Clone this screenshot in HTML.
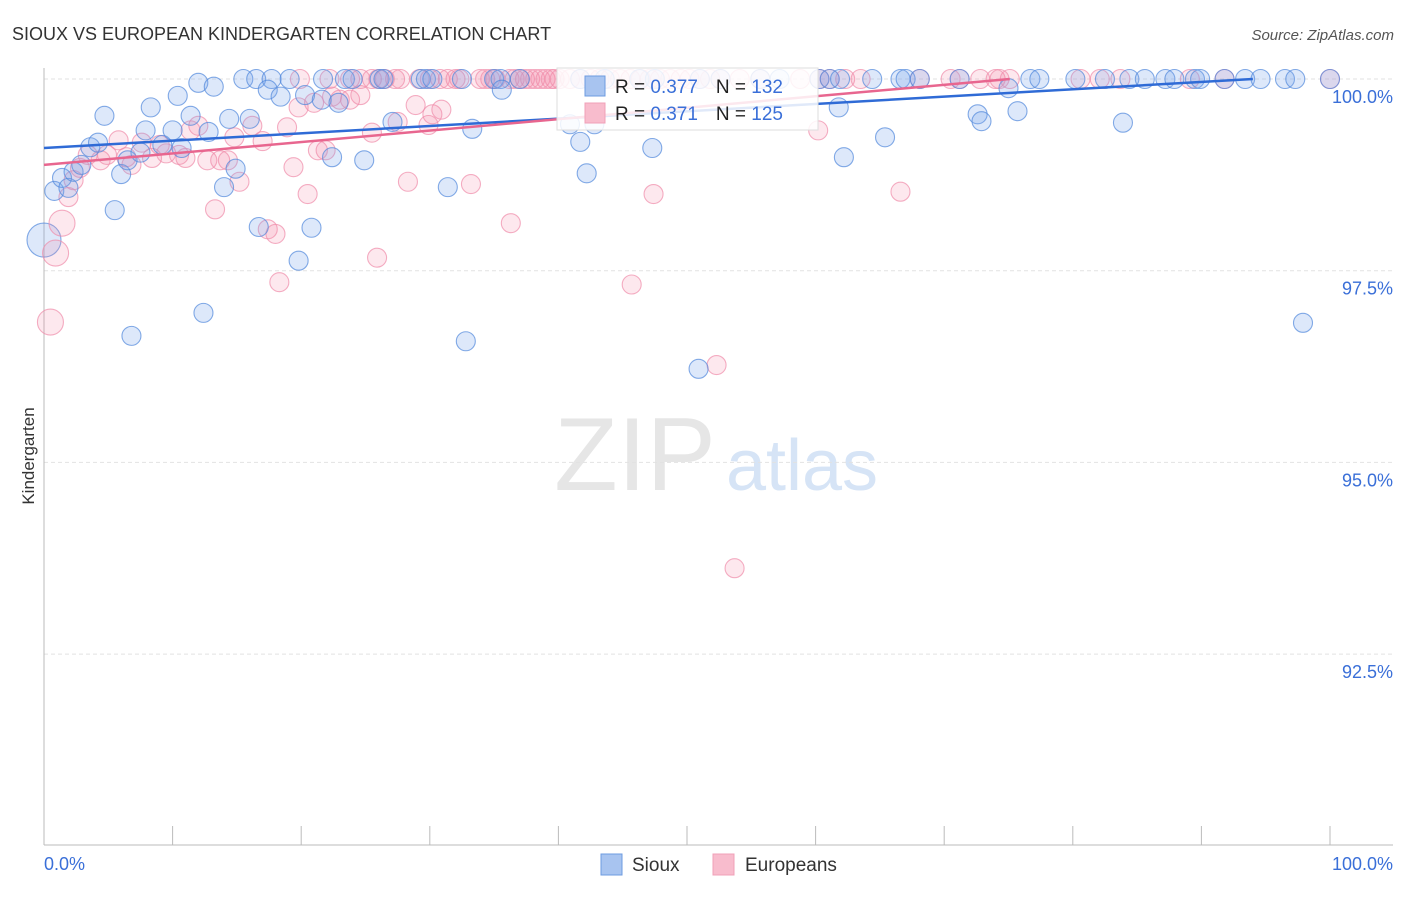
<!DOCTYPE html>
<html><head><meta charset="utf-8"><style>
body{margin:0;background:#fff;font-family:"Liberation Sans",sans-serif}
svg text{font-family:"Liberation Sans",sans-serif}
</style></head><body>
<svg id="c" width="1406" height="892">
<text x="12" y="40" font-size="18" fill="#333">SIOUX VS EUROPEAN KINDERGARTEN CORRELATION CHART</text>
<text x="1394" y="40" font-size="15" fill="#555" font-style="italic" text-anchor="end">Source: ZipAtlas.com</text>
<text x="34" y="456" font-size="17" fill="#333" transform="rotate(-90 34 456)" text-anchor="middle">Kindergarten</text>
<g><text x="635" y="490" font-size="104" fill="#e6e6e6" font-family="Liberation Serif" text-anchor="middle">ZIP</text><text x="802" y="490" font-size="72" fill="#d6e4f6" text-anchor="middle">atlas</text></g>
<g id="grid"></g><g id="pts"></g><g id="lines"></g>
<g>
<rect x="557" y="68" width="261" height="62" fill="#fff" fill-opacity="0.85" stroke="#ddd"/>
<rect x="585" y="76" width="20" height="20" fill="#a8c4f0" stroke="#6d9be0"/>
<rect x="585" y="103" width="20" height="20" fill="#f8bccd" stroke="#f0a0b8"/>
<text x="615" y="93" font-size="19" fill="#222">R = <tspan fill="#3a6fd8">0.377</tspan><tspan dx="18">N = </tspan><tspan fill="#3a6fd8">132</tspan></text>
<text x="615" y="120" font-size="19" fill="#222">R = <tspan fill="#3a6fd8"> 0.371</tspan><tspan dx="18">N = </tspan><tspan fill="#3a6fd8">125</tspan></text>
</g>
<g>
<rect x="601" y="854" width="21" height="21" fill="#a8c4f0" stroke="#6d9be0"/>
<text x="632" y="871" font-size="19" fill="#333">Sioux</text>
<rect x="713" y="854" width="21" height="21" fill="#f8bccd" stroke="#f0a0b8"/>
<text x="745" y="871" font-size="19" fill="#333">Europeans</text>
</g>
</svg>
<script>
const yTicks=[100,97.5,95,92.5];
const yTickLabels=["100.0%","97.5%","95.0%","92.5%"];
const xTicks=[0,10,20,30,40,50,60,70,80,90,100];
const siouxTopX=[15.5,16.5,17.7,19.1,21.7,23.4,24.0,26.1,26.4,29.3,29.7,30.2,32.5,35.0,35.5,37.0,41.7,43.6,46.3,47.5,51.0,52.6,55.7,57.2,60.3,61.1,61.9,64.4,66.6,67.0,68.1,71.2,76.7,77.4,80.2,82.5,84.4,85.6,87.2,87.9,89.5,89.9,91.8,93.4,94.6,96.5,97.3,100];
const siouxX=[0.8,1.4,1.9,2.3,2.9,3.6,4.2,4.7,5.5,6.0,6.5,6.8,7.5,7.9,8.3,9.2,10.0,10.4,10.7,11.4,12.0,12.4,12.8,13.2,14.0,14.4,14.9,16.0,16.7,17.4,18.4,19.8,20.3,20.8,21.6,22.4,22.9,24.9,27.1,31.4,32.8,33.3,35.6,40.9,41.7,42.2,42.8,47.3,50.9,61.8,62.2,65.4,72.6,72.9,75.0,75.7,83.9,97.9];
const siouxY=[98.54,98.71,98.58,98.79,98.88,99.11,99.17,99.52,98.29,98.76,98.94,96.65,99.04,99.33,99.63,99.14,99.33,99.78,99.10,99.52,99.95,96.95,99.31,99.9,98.59,99.48,98.83,99.48,98.07,99.86,99.77,97.63,99.79,98.06,99.73,98.98,99.69,98.94,99.44,98.59,96.58,99.35,99.86,99.41,99.18,98.77,99.41,99.10,96.22,99.63,98.98,99.24,99.54,99.45,99.88,99.58,99.43,96.82];
const eurTopX=[19.9,22.2,23.8,24.6,25.5,26.0,26.5,27.3,27.7,29.2,30.0,30.8,31.4,32.0,32.3,33.9,34.3,34.7,35.1,36.2,36.6,37.0,37.4,37.8,38.2,38.6,39.0,39.4,39.7,40.1,40.9,41.7,42.5,43.2,44.0,44.8,45.6,46.4,47.1,47.9,48.7,49.5,50.2,51.0,51.8,52.6,54.1,55.7,58.8,60.3,61.1,62.3,63.5,68.1,70.5,71.2,72.8,74.0,74.3,75.1,80.6,82.1,83.7,89.1,91.8,100];
const eurX=[1.9,2.3,2.8,3.4,4.4,4.9,5.8,6.4,6.8,7.6,8.4,9.0,9.5,10.5,11.0,11.4,12.0,12.7,13.3,13.7,14.3,14.8,15.2,16.2,17.0,17.4,18.0,18.3,18.9,19.4,19.8,20.5,21.0,21.3,21.9,22.4,23.0,23.8,24.6,25.5,25.9,27.5,28.3,28.9,29.9,30.2,30.9,33.2,36.3,45.7,47.4,52.3,53.7,60.2,66.6];
const eurY=[98.46,98.68,98.84,99.01,98.94,99.01,99.2,98.98,98.88,99.17,98.97,99.14,99.03,99.01,98.97,99.33,99.39,98.94,98.30,98.94,98.94,99.24,98.66,99.39,99.19,98.04,97.98,97.35,99.37,98.85,99.63,98.50,99.69,99.07,99.07,99.77,99.73,99.73,99.79,99.30,97.67,99.44,98.66,99.66,99.40,99.54,99.60,98.63,98.12,97.32,98.50,96.27,93.62,99.33,98.53];
const bigX=[0,0.5,0.9,1.4], bigY=[97.9,96.83,97.73,98.12], bigS=[0,1,1,1];
const trendSioux=[0,99.10,94,100.0];
const trendEur=[0,98.88,75.1,100.0];
const X=v=>44+v*12.86, Y=v=>79+(100-v)*76.68;
const NS="http://www.w3.org/2000/svg";
function mk(t,a,p){const e=document.createElementNS(NS,t);for(const k in a)e.setAttribute(k,a[k]);p.appendChild(e);return e;}
const g=document.getElementById('grid'),P=document.getElementById('pts'),L=document.getElementById('lines');
yTicks.forEach((t,i)=>{const l=mk('line',{x1:44,x2:1393,y1:Y(t),y2:Y(t),stroke:'#e2e2e2','stroke-dasharray':'4,3'},g);

const tx=mk('text',{x:1393,y:Y(t)+24,'font-size':18,fill:'#3a6fd8','text-anchor':'end'},g);tx.textContent=yTickLabels[i];
});
const ax=mk('line',{x1:44,x2:44,y1:68,y2:845,stroke:'#bbb'},g);
const bx=mk('line',{x1:44,x2:1393,y1:845,y2:845,stroke:'#bbb'},g);
xTicks.forEach(t=>{const l=mk('line',{x1:X(t),x2:X(t),y1:826,y2:845,stroke:'#bbb'},g);});
[['0.0%',44,'start'],['100.0%',1393,'end']].forEach(a=>{const t=mk('text',{x:a[1],y:870,'font-size':18,fill:'#3a6fd8','text-anchor':a[2]},g);t.textContent=a[0];});
const sty=[{fill:'rgba(120,165,235,0.25)',stroke:'rgba(80,135,220,0.7)'},{fill:'rgba(245,140,170,0.2)',stroke:'rgba(240,140,170,0.7)'}];
function dot(x,y,s,r){const c=mk('circle',{cx:X(x),cy:Y(y),r:r,fill:sty[s].fill,stroke:sty[s].stroke,'stroke-width':1.1},P);
}
eurTopX.forEach(x=>dot(x,100,1,9.5));
eurX.forEach((x,i)=>dot(x,eurY[i],1,9.5));
siouxTopX.forEach(x=>dot(x,100,0,9.5));
siouxX.forEach((x,i)=>dot(x,siouxY[i],0,9.5));
bigX.forEach((x,i)=>dot(x,bigY[i],bigS[i],bigS[i]?13:17));
const l1=mk('line',{x1:X(trendSioux[0]),y1:Y(trendSioux[1]),x2:X(trendSioux[2]),y2:Y(trendSioux[3]),stroke:'#2f6bd6','stroke-width':2.5},L);

const l2=mk('line',{x1:X(trendEur[0]),y1:Y(trendEur[1]),x2:X(trendEur[2]),y2:Y(trendEur[3]),stroke:'#e8668f','stroke-width':2.5},L);

</script>
</body></html>
